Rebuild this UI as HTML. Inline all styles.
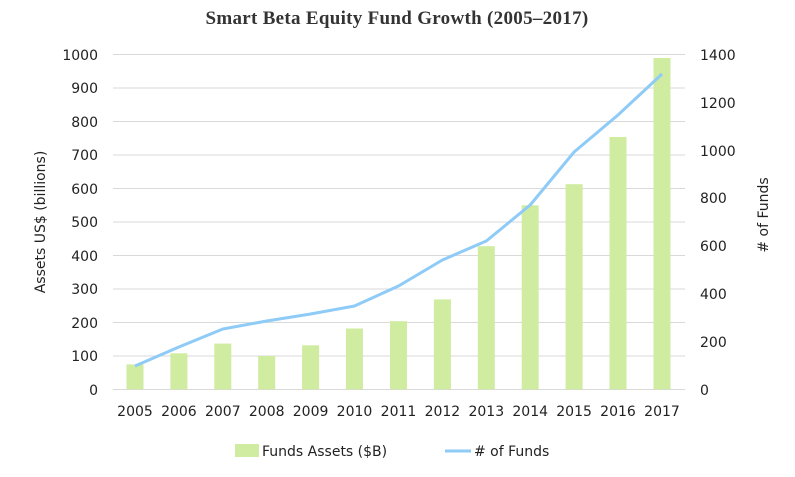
<!DOCTYPE html>
<html><head><meta charset="utf-8"><style>
body{margin:0;background:#fff;}
svg text{font-family:"DejaVu Sans","Liberation Sans",sans-serif;fill:#222;}
</style></head><body>
<svg width="795" height="472" xmlns="http://www.w3.org/2000/svg">
<text x="397" y="24" text-anchor="middle" style="font-family:'Liberation Serif',serif;font-weight:bold;font-size:19px;letter-spacing:0.3px;fill:#333">Smart Beta Equity Fund Growth (2005–2017)</text>
<g stroke="#d9d9d9" stroke-width="1">
<line x1="113" x2="685" y1="54.5" y2="54.5"/><line x1="113" x2="685" y1="88" y2="88"/>
<line x1="113" x2="685" y1="121.5" y2="121.5"/><line x1="113" x2="685" y1="155" y2="155"/>
<line x1="113" x2="685" y1="188.5" y2="188.5"/><line x1="113" x2="685" y1="222" y2="222"/>
<line x1="113" x2="685" y1="255.5" y2="255.5"/><line x1="113" x2="685" y1="289" y2="289"/>
<line x1="113" x2="685" y1="322.5" y2="322.5"/><line x1="113" x2="685" y1="356" y2="356"/>
<line x1="113" x2="685" y1="389.5" y2="389.5"/>
</g>
<g font-size="14" text-anchor="end">
<text x="98" y="60">1000</text><text x="98" y="93">900</text><text x="98" y="127">800</text>
<text x="98" y="160">700</text><text x="98" y="194">600</text><text x="98" y="227">500</text>
<text x="98" y="261">400</text><text x="98" y="294">300</text><text x="98" y="328">200</text>
<text x="98" y="361">100</text><text x="98" y="395">0</text>
</g>
<g font-size="14" text-anchor="start">
<text x="700" y="60">1400</text><text x="700" y="108">1200</text><text x="700" y="156">1000</text>
<text x="700" y="203">800</text><text x="700" y="251">600</text><text x="700" y="299">400</text>
<text x="700" y="347">200</text><text x="700" y="395">0</text>
</g>
<text transform="translate(45,222) rotate(-90)" font-size="14" text-anchor="middle">Assets US$ (billions)</text>
<text transform="translate(768,215) rotate(-90)" font-size="14" text-anchor="middle"># of Funds</text>
<g fill="#cfeca0">
<rect x="126.5" y="364.4" width="17" height="25"/>
<rect x="170.4" y="353.3" width="17" height="36.1"/>
<rect x="214.3" y="343.6" width="17" height="45.8"/>
<rect x="258.2" y="356" width="17" height="33.4"/>
<rect x="302.1" y="345.3" width="17" height="44.1"/>
<rect x="346" y="328.5" width="17" height="60.9"/>
<rect x="390" y="321.2" width="17" height="68.2"/>
<rect x="433.9" y="299.4" width="17" height="90"/>
<rect x="477.8" y="246.2" width="17" height="143.2"/>
<rect x="521.7" y="205.3" width="17" height="184.1"/>
<rect x="565.6" y="184.2" width="17" height="205.2"/>
<rect x="609.5" y="137" width="17" height="252.4"/>
<rect x="653.5" y="58" width="17" height="331.4"/>
</g>
<polyline fill="none" stroke="#8ecbf7" stroke-width="3" stroke-linejoin="round" points="135,366 178.9,347 222.8,329 266.7,321 310.6,314 354.5,306 398.5,286 442.4,260 486.3,241 530.2,205 574.1,152 618,115 662,74"/>
<g font-size="14" text-anchor="middle">
<text x="135" y="416">2005</text><text x="178.9" y="416">2006</text><text x="222.8" y="416">2007</text>
<text x="266.7" y="416">2008</text><text x="310.6" y="416">2009</text><text x="354.5" y="416">2010</text>
<text x="398.5" y="416">2011</text><text x="442.4" y="416">2012</text><text x="486.3" y="416">2013</text>
<text x="530.2" y="416">2014</text><text x="574.1" y="416">2015</text><text x="618" y="416">2016</text>
<text x="662" y="416">2017</text>
</g>
<rect x="235" y="444" width="24" height="13" fill="#cfeca0"/>
<text x="262" y="456" font-size="14">Funds Assets ($B)</text>
<line x1="445" x2="471" y1="451" y2="451" stroke="#8ecbf7" stroke-width="3"/>
<text x="474" y="456" font-size="14"># of Funds</text>
</svg>
</body></html>
